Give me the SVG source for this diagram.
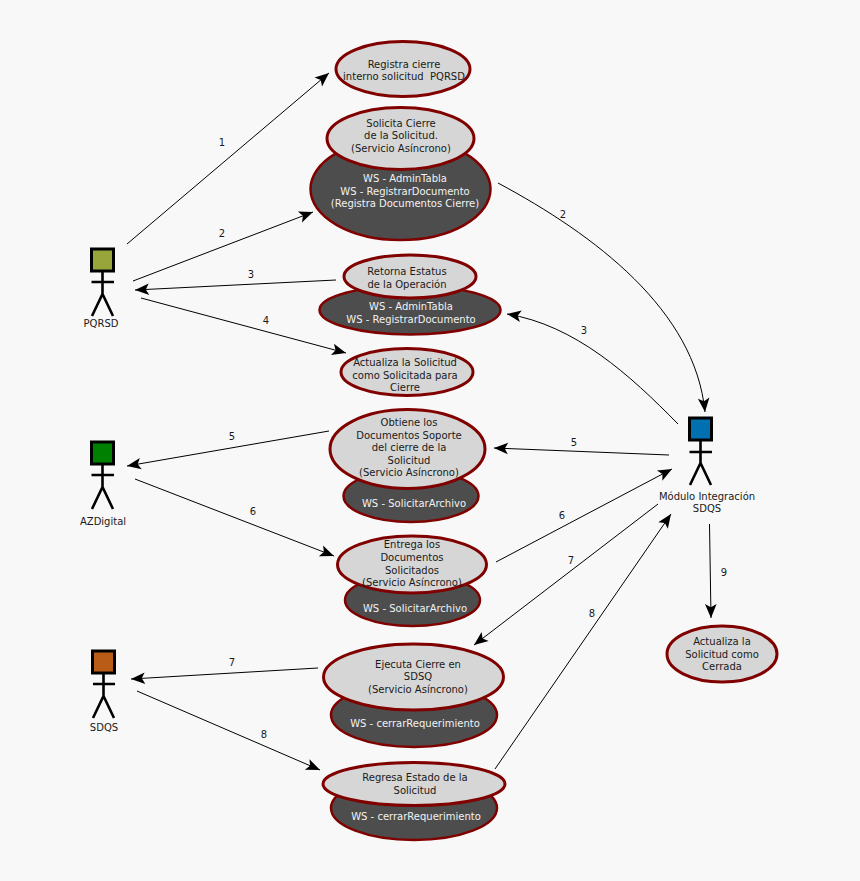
<svg xmlns="http://www.w3.org/2000/svg" width="860" height="881" viewBox="0 0 860 881">
<style>
text{font-family:"DejaVu Sans",sans-serif;font-size:10px;text-anchor:middle;fill:#1a1a1a}
text.w{fill:#f2f2f2}
.c{fill:none;stroke:#000;stroke-width:1;marker-end:url(#a)}
.t{fill:#d6d6d6;stroke:#800000;stroke-width:3}
.d{fill:#4d4d4d;stroke:#800000;stroke-width:2.5}
.s{stroke:#000;stroke-width:3}
.b{stroke:#000;stroke-width:2.6;fill:none}
</style>
<defs>
<marker id="a" markerUnits="userSpaceOnUse" markerWidth="18" markerHeight="14" viewBox="-16 -7 18 14" refX="0" refY="0" orient="auto">
<path d="M0 0L-14 -5.800L-10.800 0L-14 5.800Z" fill="#000"/>
</marker>
</defs>
<rect width="860" height="881" fill="#f8f8f8"/>
<g id="connectors">
<path class="c" d="M127 244L329 73"/>
<path class="c" d="M133 281L313 212"/>
<path class="c" d="M336 280L135 290"/>
<path class="c" d="M141 298L346 353"/>
<path class="c" d="M329 431L127 466"/>
<path class="c" d="M135 479L334 556"/>
<path class="c" d="M318 668L131 679"/>
<path class="c" d="M137 691L320 770"/>
<path class="c" d="M498 183C595 235 695 310 705 412"/>
<path class="c" d="M678 424C630 375 575 325 507 314"/>
<path class="c" d="M669 455L494 448"/>
<path class="c" d="M496 562L672 469"/>
<path class="c" d="M658 504L474 645"/>
<path class="c" d="M495 769L671 514"/>
<path class="c" d="M709.500 524L711 618"/>
</g>
<g id="connector-labels">
<text x="222" y="146">1</text><text x="222" y="237">2</text><text x="251" y="278">3</text><text x="266" y="324">4</text>
<text x="232" y="440">5</text><text x="253" y="515">6</text><text x="232" y="666">7</text><text x="264" y="738">8</text>
<text x="563" y="218">2</text><text x="584" y="334">3</text><text x="574" y="446">5</text><text x="562" y="519">6</text>
<text x="571" y="564">7</text><text x="592" y="617">8</text><text x="724" y="576">9</text>
</g>
<g id="actor-pqrsd">
<rect x="91.500" y="249" width="22" height="22" fill="#97a53a" class="s"/>
<path class="b" d="M102.500 271V294M91.500 282H114M92 316L102.500 294L113 316"/>
<text x="101" y="327">PQRSD</text>
</g>
<g id="actor-azdigital">
<rect x="91.500" y="442" width="22" height="22" fill="#008000" class="s"/>
<path class="b" d="M102.500 464V487M91.500 475H114M92 509L102.500 487L113 509"/>
<text x="103" y="525">AZDigital</text>
</g>
<g id="actor-sdqs">
<rect x="92.500" y="651" width="22" height="22" fill="#b85c18" class="s"/>
<path class="b" d="M103.500 673V696M93 684H115M93 718L103.500 696L114 718"/>
<text x="104" y="731">SDQS</text>
</g>
<g id="actor-modulo">
<rect x="689.500" y="418" width="22" height="22" fill="#0070b0" class="s"/>
<path class="b" d="M700.500 440V463M689.500 452H712M690 485L700.500 463L711 485"/>
<text x="707" y="500">Módulo Integración</text>
<text x="707" y="512">SDQS</text>
</g>
<g id="node-registra">
<ellipse class="t" cx="403" cy="69" rx="67" ry="27.500"/>
<text x="404" y="68">Registra cierre</text>
<text x="404" y="80">interno solicitud &#160;PQRSD</text>
</g>
<g id="node-solicita">
<ellipse class="d" cx="400.500" cy="189" rx="90" ry="51" stroke-width="3"/>
<ellipse class="t" cx="400.500" cy="138.500" rx="73.500" ry="31"/>
<text x="401" y="127">Solicita Cierre</text>
<text x="401" y="139">de la Solicitud.</text>
<text x="401" y="152">(Servicio Asíncrono)</text>
<text class="w" x="405" y="182">WS - AdminTabla</text>
<text class="w" x="405" y="194.500">WS - RegistrarDocumento</text>
<text class="w" x="405" y="207">(Registra Documentos Cierre)</text>
</g>
<g id="node-retorna">
<ellipse class="d" cx="410" cy="310" rx="90.500" ry="24.500"/>
<ellipse class="t" cx="410" cy="276.500" rx="66" ry="21.500"/>
<text x="407" y="275">Retorna Estatus</text>
<text x="407" y="288">de la Operación</text>
<text class="w" x="411" y="310">WS - AdminTabla</text>
<text class="w" x="411" y="322.500">WS - RegistrarDocumento</text>
</g>
<g id="node-actualiza">
<ellipse class="t" cx="407" cy="372" rx="66" ry="23.500"/>
<text x="405" y="366">Actualiza la Solicitud</text>
<text x="405" y="378.500">como Solicitada para</text>
<text x="405" y="391">Cierre</text>
</g>
<g id="node-obtiene">
<ellipse class="d" cx="411" cy="496" rx="67.500" ry="26"/>
<ellipse class="t" cx="407.500" cy="449" rx="77.500" ry="39.500" stroke-width="3.500"/>
<text x="409" y="426">Obtiene los</text>
<text x="409" y="438.500">Documentos Soporte</text>
<text x="409" y="451">del cierre de la</text>
<text x="409" y="463.500">Solicitud</text>
<text x="409" y="476">(Servicio Asíncrono)</text>
<text class="w" x="414" y="507">WS - SolicitarArchivo</text>
</g>
<g id="node-entrega">
<ellipse class="d" cx="412.500" cy="600" rx="67.500" ry="26"/>
<ellipse class="t" cx="412" cy="564.500" rx="74.500" ry="28.500"/>
<text x="412" y="548">Entrega los</text>
<text x="412" y="561">Documentos</text>
<text x="412" y="573.500">Solicitados</text>
<text x="412" y="586">(Servicio Asíncrono)</text>
<text class="w" x="415" y="611.500">WS - SolicitarArchivo</text>
</g>
<g id="node-ejecuta">
<ellipse class="d" cx="414" cy="715" rx="83" ry="32"/>
<ellipse class="t" cx="413.500" cy="677" rx="90" ry="33" stroke-width="3.500"/>
<text x="418" y="667.500">Ejecuta Cierre en</text>
<text x="418" y="680">SDSQ</text>
<text x="418" y="692.500">(Servicio Asíncrono)</text>
<text class="w" x="415" y="727">WS - cerrarRequerimiento</text>
</g>
<g id="node-regresa">
<ellipse class="d" cx="414" cy="808" rx="83" ry="32"/>
<ellipse class="t" cx="414" cy="784" rx="91" ry="21.500"/>
<text x="415" y="781">Regresa Estado de la</text>
<text x="415" y="793.500">Solicitud</text>
<text class="w" x="416" y="820">WS - cerrarRequerimiento</text>
</g>
<g id="node-cerrada">
<ellipse class="t" cx="722" cy="654" rx="55" ry="28"/>
<text x="722" y="645">Actualiza la</text>
<text x="722" y="657.500">Solicitud como</text>
<text x="722" y="670">Cerrada</text>
</g>
</svg>
